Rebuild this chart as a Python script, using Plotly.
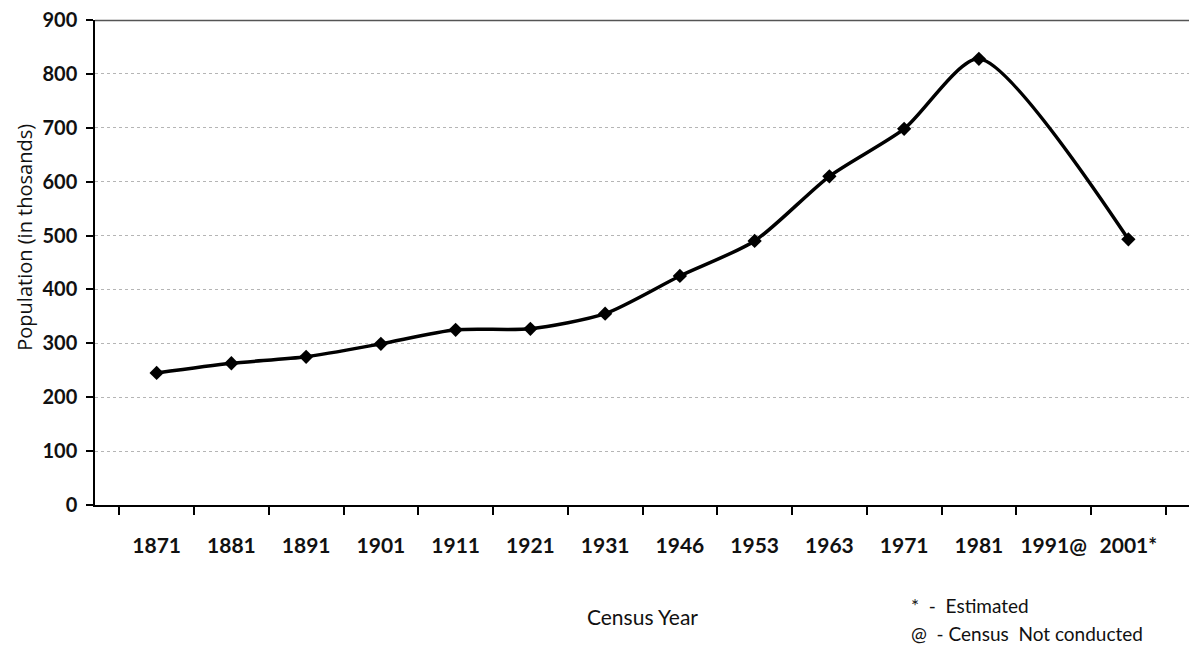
import plotly.graph_objects as go

years = ["1871", "1881", "1891", "1901", "1911", "1921", "1931", "1946",
         "1953", "1963", "1971", "1981", "1991@", "2001*"]
population = [245, 263, 275, 299, 325, 327, 355, 425, 490, 610, 698, 828, None, 493]
y_ticks = [0, 100, 200, 300, 400, 500, 600, 700, 800, 900]

FONT = "Lato"

fig = go.Figure()
fig.add_trace(go.Scatter(
    x=years, y=population, mode="lines+markers",
    line=dict(color="black", width=3.5, shape="spline", smoothing=0.7),
    marker=dict(symbol="diamond", size=11, color="black"),
    connectgaps=True, showlegend=False,
))

fig.update_layout(
    width=1197, height=647,
    margin=dict(l=87, r=15, t=12, b=150),
    paper_bgcolor="white", plot_bgcolor="white",
    font=dict(family=FONT, color="black"),
)
fig.update_xaxes(
    type="category", categoryorder="array", categoryarray=years,
    automargin=False, tickangle=0,
    showline=True, linecolor="black", linewidth=1.5,
    ticks="outside", ticklen=8, tickcolor="black", tickwidth=1.5,
    tickson="boundaries", showgrid=False,
    tickfont=dict(family=FONT, size=21, color="#111", weight="bold"),
    ticklabelstandoff=21,
    title=dict(text="Census Year", font=dict(family=FONT, size=21, color="#111"), standoff=54),
)
fig.update_yaxes(
    range=[0, 900], tickvals=y_ticks, automargin=False,
    ticklabeloverflow="allow",
    showline=True, linecolor="black", linewidth=1.5,
    ticks="outside", ticklen=7, tickcolor="black", tickwidth=1.5,
    showgrid=True, gridcolor="#b5b5b5", griddash="dot", gridwidth=1,
    zeroline=False,
    tickfont=dict(family=FONT, size=20, color="#111", weight="bold"),
    ticklabelstandoff=5,
)
# y-axis title placed as rotated text (sits above the plot's vertical centre in the reference)
fig.add_annotation(xref="paper", yref="paper", x=-0.064, y=0.553, xanchor="center",
                   yanchor="middle", showarrow=False, textangle=-90,
                   text="Population (in thosands)",
                   font=dict(family="Open Sans", size=20, color="#111"))
# top and right frame
fig.add_shape(type="line", xref="paper", yref="paper", x0=0, x1=1, y0=0.999, y1=0.999,
              line=dict(color="#555", width=1.5), layer="above")
fig.add_shape(type="line", xref="paper", yref="paper", x0=1, x1=1, y0=0, y1=1,
              line=dict(color="#888", width=1, dash="dot"))

fig.add_annotation(xref="paper", yref="paper", x=0.743, y=-0.207, xanchor="left",
                   yanchor="middle", showarrow=False, text="*  -  Estimated",
                   font=dict(family=FONT, size=19, color="#111"))
fig.add_annotation(xref="paper", yref="paper", x=0.743, y=-0.265, xanchor="left",
                   yanchor="middle", showarrow=False, text="@  - Census  Not conducted",
                   font=dict(family=FONT, size=19, color="#111"))

fig.write_html("out.html")
